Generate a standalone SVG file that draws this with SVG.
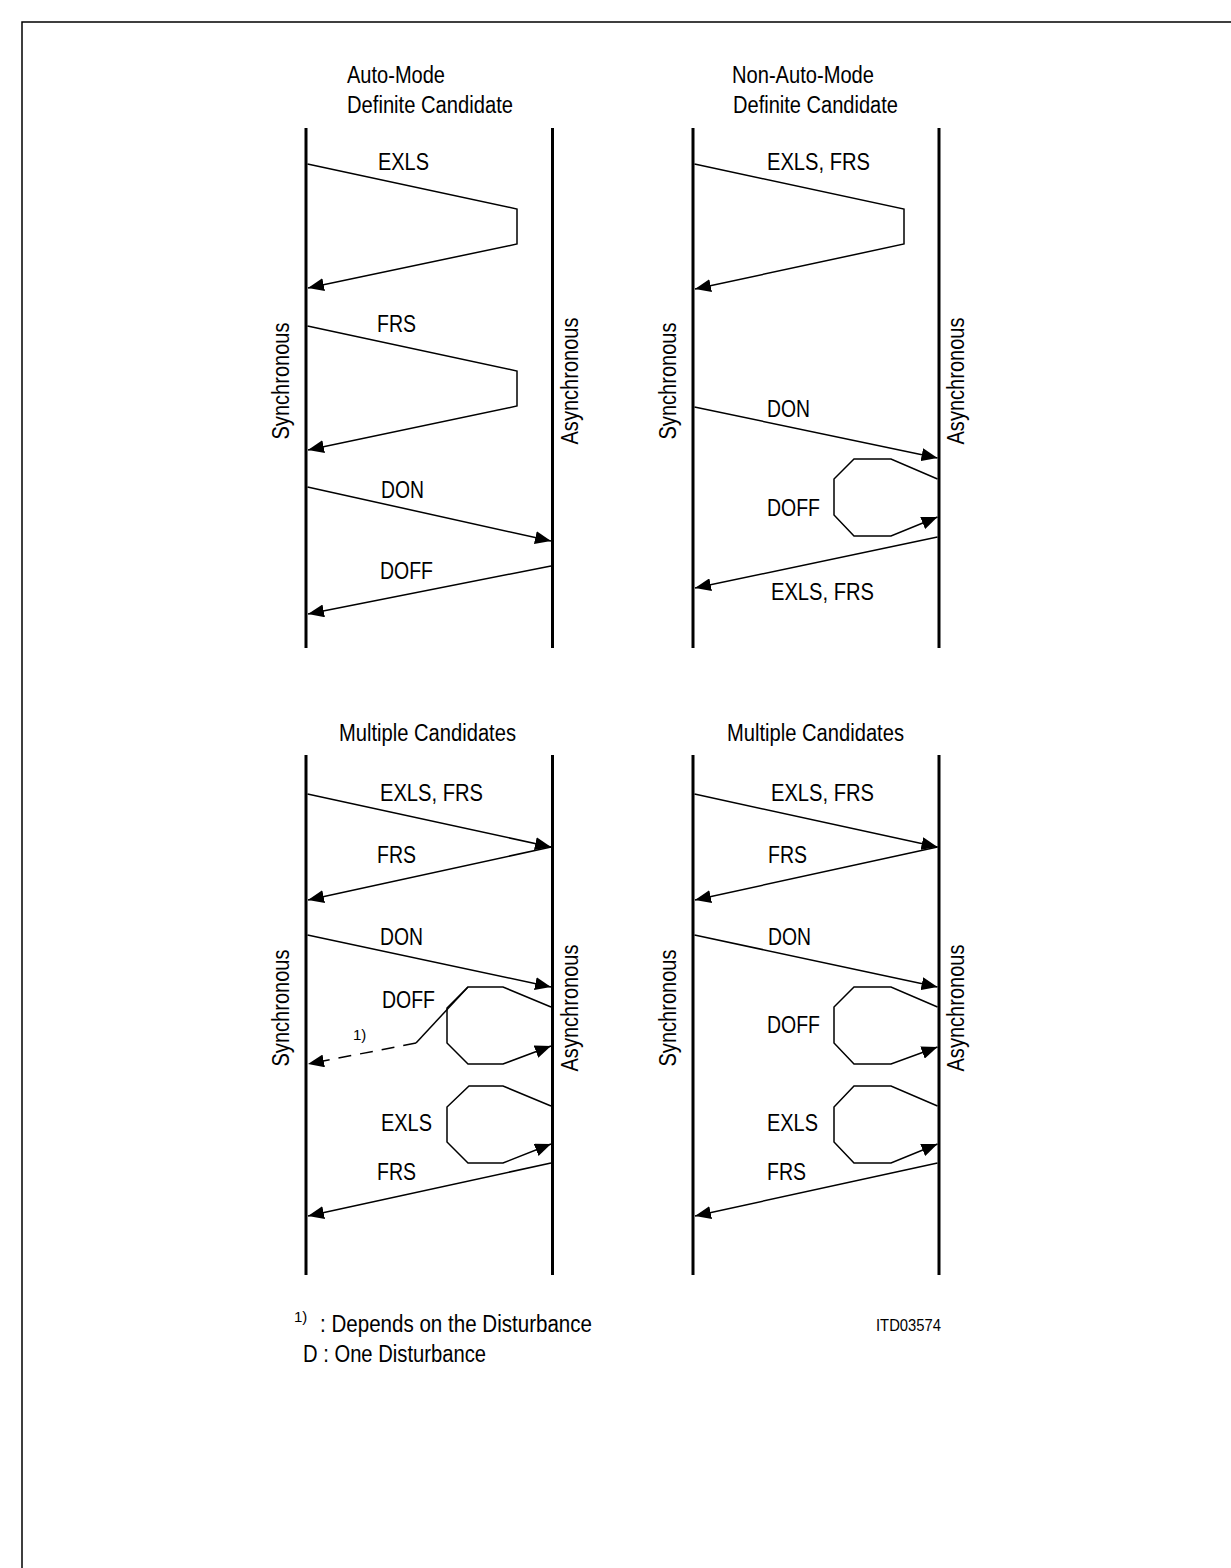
<svg xmlns="http://www.w3.org/2000/svg" width="1231" height="1568" viewBox="0 0 1231 1568">
<style>
text{font-family:"Liberation Sans",Arial,sans-serif;font-size:23px;fill:#000}
.sm{font-size:15px}
.id{font-size:16px}
.life{stroke:#000;stroke-width:3;fill:none}
.msg{stroke:#000;stroke-width:1.5;fill:none;marker-end:url(#ah)}
.plain{stroke:#000;stroke-width:1.5;fill:none}
.dash{stroke:#000;stroke-width:1.5;fill:none;stroke-dasharray:13 9;marker-end:url(#ah)}
.frame{stroke:#000;stroke-width:1.5;fill:none}
</style>
<defs>
<marker id="ah" viewBox="0 0 16 13" refX="16" refY="6.5" markerWidth="16" markerHeight="13" markerUnits="userSpaceOnUse" orient="auto">
<path d="M0,0 L16,6.5 L0,13 z" fill="#000"/>
</marker>
</defs>
<rect width="1231" height="1568" fill="#fff"/>
<path class="frame" d="M22,1568 V22 H1231"/>

<g id="panel-auto">
<text x="347" y="83" textLength="98" lengthAdjust="spacingAndGlyphs">Auto-Mode</text>
<text x="347" y="113" textLength="166" lengthAdjust="spacingAndGlyphs">Definite Candidate</text>
<line class="life" x1="306" y1="128" x2="306" y2="648"/>
<line class="life" x1="552.5" y1="128" x2="552.5" y2="648"/>
<text transform="translate(289,381) rotate(-90)" text-anchor="middle" textLength="117" lengthAdjust="spacingAndGlyphs">Synchronous</text>
<text transform="translate(578,381) rotate(-90)" text-anchor="middle" textLength="127" lengthAdjust="spacingAndGlyphs">Asynchronous</text>
<text x="378" y="170" textLength="51" lengthAdjust="spacingAndGlyphs">EXLS</text>
<text x="377" y="332" textLength="39" lengthAdjust="spacingAndGlyphs">FRS</text>
<text x="381" y="498" textLength="43" lengthAdjust="spacingAndGlyphs">DON</text>
<text x="380" y="579" textLength="53" lengthAdjust="spacingAndGlyphs">DOFF</text>
</g>

<g id="panel-nonauto">
<text x="732" y="83" textLength="142" lengthAdjust="spacingAndGlyphs">Non-Auto-Mode</text>
<text x="733" y="113" textLength="165" lengthAdjust="spacingAndGlyphs">Definite Candidate</text>
<line class="life" x1="693" y1="128" x2="693" y2="648"/>
<line class="life" x1="939" y1="128" x2="939" y2="648"/>
<text transform="translate(676,381) rotate(-90)" text-anchor="middle" textLength="117" lengthAdjust="spacingAndGlyphs">Synchronous</text>
<text transform="translate(964,381) rotate(-90)" text-anchor="middle" textLength="127" lengthAdjust="spacingAndGlyphs">Asynchronous</text>
<text x="767" y="170" textLength="103" lengthAdjust="spacingAndGlyphs">EXLS, FRS</text>
<text x="767" y="417" textLength="43" lengthAdjust="spacingAndGlyphs">DON</text>
<text x="767" y="516" textLength="53" lengthAdjust="spacingAndGlyphs">DOFF</text>
<text x="771" y="600" textLength="103" lengthAdjust="spacingAndGlyphs">EXLS, FRS</text>
</g>

<g id="panel-multi-left">
<text x="339" y="741" textLength="177" lengthAdjust="spacingAndGlyphs">Multiple Candidates</text>
<line class="life" x1="306" y1="755" x2="306" y2="1275"/>
<line class="life" x1="552.5" y1="755" x2="552.5" y2="1275"/>
<text transform="translate(289,1008) rotate(-90)" text-anchor="middle" textLength="117" lengthAdjust="spacingAndGlyphs">Synchronous</text>
<text transform="translate(578,1008) rotate(-90)" text-anchor="middle" textLength="127" lengthAdjust="spacingAndGlyphs">Asynchronous</text>
<text x="380" y="801" textLength="103" lengthAdjust="spacingAndGlyphs">EXLS, FRS</text>
<text x="377" y="863" textLength="39" lengthAdjust="spacingAndGlyphs">FRS</text>
<text x="380" y="945" textLength="43" lengthAdjust="spacingAndGlyphs">DON</text>
<text x="382" y="1008" textLength="53" lengthAdjust="spacingAndGlyphs">DOFF</text>
<text class="sm" x="353" y="1040">1)</text>
<text x="381" y="1131" textLength="51" lengthAdjust="spacingAndGlyphs">EXLS</text>
<text x="377" y="1180" textLength="39" lengthAdjust="spacingAndGlyphs">FRS</text>
</g>

<g id="panel-multi-right">
<text x="727" y="741" textLength="177" lengthAdjust="spacingAndGlyphs">Multiple Candidates</text>
<line class="life" x1="693" y1="755" x2="693" y2="1275"/>
<line class="life" x1="939" y1="755" x2="939" y2="1275"/>
<text transform="translate(676,1008) rotate(-90)" text-anchor="middle" textLength="117" lengthAdjust="spacingAndGlyphs">Synchronous</text>
<text transform="translate(964,1008) rotate(-90)" text-anchor="middle" textLength="127" lengthAdjust="spacingAndGlyphs">Asynchronous</text>
<text x="771" y="801" textLength="103" lengthAdjust="spacingAndGlyphs">EXLS, FRS</text>
<text x="768" y="863" textLength="39" lengthAdjust="spacingAndGlyphs">FRS</text>
<text x="768" y="945" textLength="43" lengthAdjust="spacingAndGlyphs">DON</text>
<text x="767" y="1033" textLength="53" lengthAdjust="spacingAndGlyphs">DOFF</text>
<text x="767" y="1131" textLength="51" lengthAdjust="spacingAndGlyphs">EXLS</text>
<text x="767" y="1180" textLength="39" lengthAdjust="spacingAndGlyphs">FRS</text>
</g>

<g id="connectors">
<!-- top-left -->
<polyline class="msg" points="307.5,164 517,209 517,244 308,288"/>
<polyline class="msg" points="307.5,326 517,371 517,406 308,450"/>
<line class="msg" x1="307.5" y1="487" x2="551" y2="541"/>
<line class="msg" x1="551" y1="566" x2="308" y2="614"/>
<!-- top-right -->
<polyline class="msg" points="694.5,164 904,209 904,244 695,289"/>
<line class="msg" x1="694.5" y1="407" x2="937.5" y2="458"/>
<polyline class="msg" points="937.5,479 891,459 854,459 834,479 834,515 854,536 891,536 937.5,517"/>
<line class="msg" x1="937.5" y1="537" x2="695" y2="588"/>
<!-- bottom-left -->
<line class="msg" x1="307.5" y1="794" x2="551" y2="847"/>
<line class="msg" x1="551" y1="847" x2="308" y2="900"/>
<line class="msg" x1="307.5" y1="935" x2="551" y2="987"/>
<polyline class="msg" points="551,1007 503,987 468,987 447,1008 447,1043 468,1064 503,1064 551,1046"/>
<polyline class="plain" points="468,987 416,1043"/>
<line class="dash" x1="416" y1="1043" x2="308" y2="1064"/>
<polyline class="msg" points="551,1106 503,1086 469,1086 447,1107 447,1142 468,1163 503,1163 551,1144"/>
<line class="msg" x1="551" y1="1163" x2="308" y2="1216"/>
<!-- bottom-right -->
<line class="msg" x1="694.5" y1="794" x2="937.5" y2="847"/>
<line class="msg" x1="937.5" y1="847" x2="695" y2="900"/>
<line class="msg" x1="694.5" y1="935" x2="937.5" y2="987"/>
<polyline class="msg" points="937.5,1007 891,987 854,987 834,1007 834,1043 854,1064 891,1064 937.5,1047"/>
<polyline class="msg" points="937.5,1106 891,1086 854,1086 834,1107 834,1142 854,1163 891,1163 937.5,1144"/>
<line class="msg" x1="937.5" y1="1163" x2="695" y2="1216"/>
</g>

<g id="legend">
<text class="sm" x="294" y="1322">1)</text>
<text x="320" y="1332" textLength="272" lengthAdjust="spacingAndGlyphs">: Depends on the Disturbance</text>
<text x="303" y="1362" textLength="183" lengthAdjust="spacingAndGlyphs">D : One Disturbance</text>
<text class="id" x="876" y="1331" textLength="65" lengthAdjust="spacingAndGlyphs">ITD03574</text>
</g>
</svg>
